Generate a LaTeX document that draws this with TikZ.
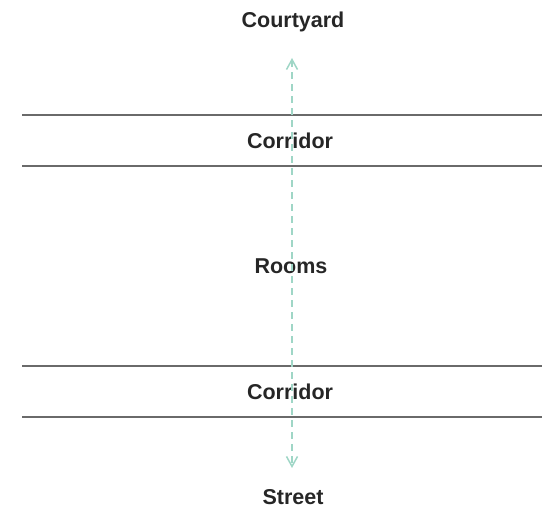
\documentclass[tikz,border=0pt]{standalone}
\usepackage{fontspec}
\setmainfont{Liberation Sans}
\usepackage{tikz}
\usetikzlibrary{arrows.meta}
\usepackage{xcolor}
\definecolor{wallgray}{HTML}{6A6A6A}
\definecolor{pathteal}{HTML}{9FD6C6}

\begin{document}
\begin{tikzpicture}[x=1pt, y=-1pt, every node/.style={font=\fontsize{21.5}{25}\selectfont\bfseries, text=black!85}]
\useasboundingbox (0,0) rectangle (542,516);

% Zones
\node at (293,22) (court) {Courtyard};
\node at (290,141) (corr1) {Corridor};
\node at (291,266) (rooms) {Rooms};
\node at (290,392) (corr2) {Corridor};
\node at (293,497) (street) {Street};

% Walls
\foreach \y in {115,166,366,417} {
    \draw[wallgray,line width=2pt] (22,\y) -- (542,\y);
}

% Route through the block
\coordinate (top) at (292,58);
\coordinate (bot) at (292,468);
\draw[pathteal,line width=1.7pt,dash pattern=on 7pt off 5pt,
      {Straight Barb[length=10pt,width=11pt,line width=1.5pt]}-{Straight Barb[length=10pt,width=11pt,line width=1.5pt]}] (top) -- (bot);
\end{tikzpicture}
\end{document}
